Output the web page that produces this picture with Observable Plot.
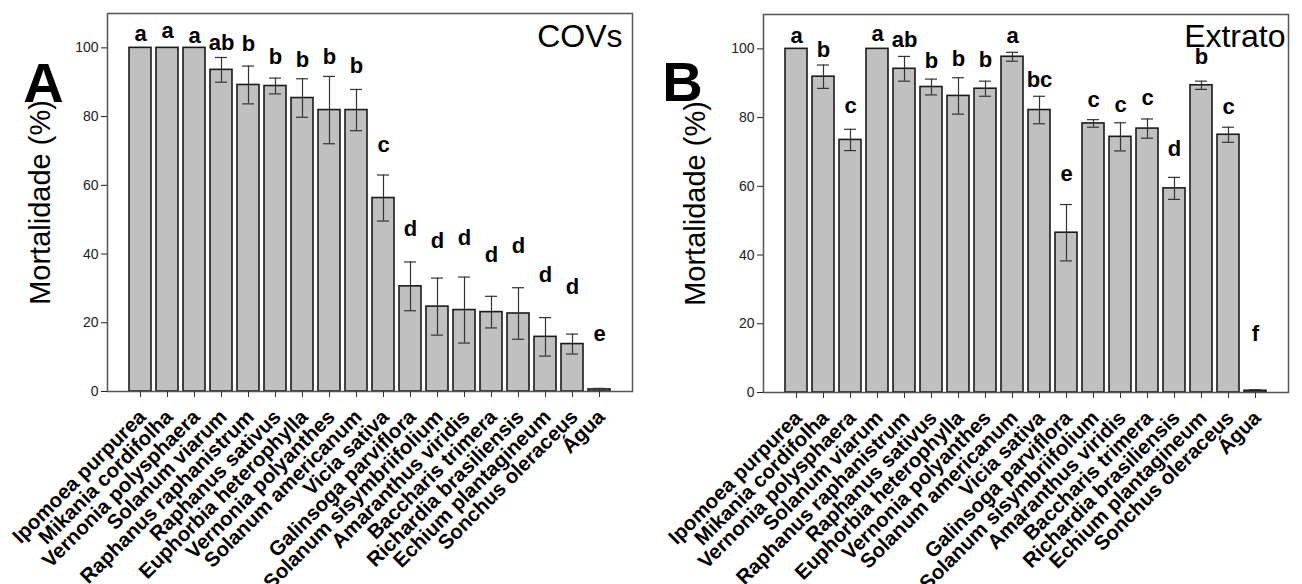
<!DOCTYPE html>
<html>
<head>
<meta charset="utf-8">
<script src="https://cdn.jsdelivr.net/npm/d3@7"></script>
<script src="https://cdn.jsdelivr.net/npm/@observablehq/plot@0.6"></script>
<style>
  html, body { margin: 0; padding: 0; background: #fff; }
  #wrap { display: flex; width: 1302px; height: 584px; }
  #wrap > div { width: 651px; height: 584px; }
  svg { overflow: visible; }
</style>
</head>
<body>
<div id="wrap"><div id="pa"></div><div id="pb"></div></div>
<script>
const species = [
  "Ipomoea purpurea", "Mikania cordifolha", "Vernonia polysphaera", "Solanum viarum",
  "Raphanus raphanistrum", "Raphanus sativus", "Euphorbia heterophylla", "Vernonia polyanthes",
  "Solanum americanum", "Vicia sativa", "Galinsoga parviflora", "Solanum sisymbriifolium",
  "Amaranthus viridis", "Baccharis trimera", "Richardia brasiliensis", "Echium plantagineum",
  "Sonchus oleraceus", "Água"
];
const yTicks = [0, 20, 40, 60, 80, 100];

// Panel A — COVs
const covsMean = [100, 100, 100, 93.6, 89.2, 88.9, 85.4, 81.9, 81.9, 56.3, 30.6, 24.7, 23.7, 23.1, 22.7, 15.9, 13.8, 0.6];
const covsErr  = [0, 0, 0, 3.6, 5.5, 2.3, 5.6, 9.8, 6.0, 6.7, 7.1, 8.3, 9.6, 4.6, 7.5, 5.6, 2.9, 0.3];
const covsLetters = ["a","a","a","ab","b","b","b","b","b","c","d","d","d","d","d","d","d","e"];
const covsLetterY = [102.0, 103.0, 101.5, 99.3, 99.1, 95.2, 94.3, 95.2, 92.6, 69.8, 45.3, 41.9, 42.6, 37.8, 40.2, 31.8, 28.4, 14.8];

// Panel B — Extrato
const extMean = [100, 91.9, 73.5, 100, 94.2, 88.9, 86.3, 88.4, 97.7, 82.2, 46.5, 78.3, 74.4, 76.8, 59.4, 89.4, 75.0, 0.5];
const extErr  = [0, 3.4, 3.1, 0, 3.6, 2.3, 5.3, 2.2, 1.3, 4.0, 8.2, 1.1, 4.1, 2.8, 3.2, 1.2, 2.2, 0.3];
const extLetters = ["a","b","c","a","ab","b","b","b","a","bc","e","c","c","c","d","b","c","f"];
const extLetterY = [101.8, 97.7, 81.2, 102.3, 100.4, 94.4, 95.1, 94.6, 101.8, 89.0, 61.6, 83.1, 81.7, 83.6, 68.9, 95.7, 81.0, 15.1];

function makePanel({mean, err, letters, letterY, panelLetter, title, m, letterDx, letterDy, titleDx, titleDy, yTitleDx}) {
  const data = species.map((name, i) => ({
    name, mean: mean[i], err: err[i], lo: mean[i] - err[i], hi: mean[i] + err[i],
    letter: letters[i], ly: letterY[i]
  }));
  const withErr = data.filter(d => d.err > 0);
  return Plot.plot({
    width: 651,
    height: 584,
    marginLeft: m.left, marginRight: m.right, marginTop: m.top, marginBottom: m.bottom,
    style: {fontFamily: "'Liberation Sans', Arial, sans-serif", fontSize: "14px", background: "white", overflow: "visible"},
    x: {domain: species, paddingInner: 0.2, paddingOuter: 0.6, axis: null},
    y: {domain: [0, 110], axis: null},
    marks: [
      Plot.barY(data, {x: "name", y: "mean", fill: "#c0c0c0", stroke: "#1a1a1a", strokeWidth: 1.6}),
      Plot.ruleX(withErr, {x: "name", y1: "lo", y2: "hi", stroke: "#333", strokeWidth: 1.2}),
      Plot.tickY(withErr, {x: "name", y: "hi", stroke: "#333", strokeWidth: 1.2, insetLeft: 5, insetRight: 5}),
      Plot.tickY(withErr, {x: "name", y: "lo", stroke: "#333", strokeWidth: 1.2, insetLeft: 5, insetRight: 5}),
      Plot.text(data, {x: "name", y: "ly", text: "letter", fontSize: 22, fontWeight: "bold", lineAnchor: "bottom", fill: "#000"}),
      Plot.frame({stroke: "#555", strokeWidth: 1.5}),
      Plot.axisY({ticks: yTicks, tickSize: 6, tickPadding: 3, fontSize: 14, color: "#222", label: null}),
      Plot.axisX({tickSize: 6, tickFormat: () => "", label: null, color: "#333"}),
      Plot.text(species, {x: d => d, text: d => d, frameAnchor: "bottom", rotate: -45, textAnchor: "end", lineAnchor: "middle",
        dx: 2, dy: 22, fontSize: 20.5, fontWeight: "bold", fill: "#000"}),
      Plot.text(["Mortalidade (%)"], {text: d => d, frameAnchor: "left", rotate: -90, textAnchor: "middle", dx: yTitleDx, fontSize: 29, lineAnchor: "middle", fill: "#000"}),
      Plot.text([panelLetter], {text: d => d, frameAnchor: "top-left", textAnchor: "middle", lineAnchor: "bottom", dx: letterDx, dy: letterDy, fontSize: 56, fontWeight: "bold", fill: "#000"}),
      Plot.text([title], {text: d => d, frameAnchor: "top-right", textAnchor: "end", lineAnchor: "bottom", dx: titleDx, dy: titleDy, fontSize: 32, fill: "#000"})
    ]
  });
}

document.getElementById("pa").append(makePanel({
  mean: covsMean, err: covsErr, letters: covsLetters, letterY: covsLetterY,
  panelLetter: "A", title: "COVs",
  m: {left: 107, right: 19, top: 13, bottom: 193},
  letterDx: -64, letterDy: 88, titleDx: -10, titleDy: 33, yTitleDx: -67
}));
document.getElementById("pb").append(makePanel({
  mean: extMean, err: extErr, letters: extLetters, letterY: extLetterY,
  panelLetter: "B", title: "Extrato",
  m: {left: 112, right: 14, top: 14, bottom: 192},
  letterDx: -81, letterDy: 86, titleDx: -3, titleDy: 32, yTitleDx: -68
}));
</script>
</body>
</html>
